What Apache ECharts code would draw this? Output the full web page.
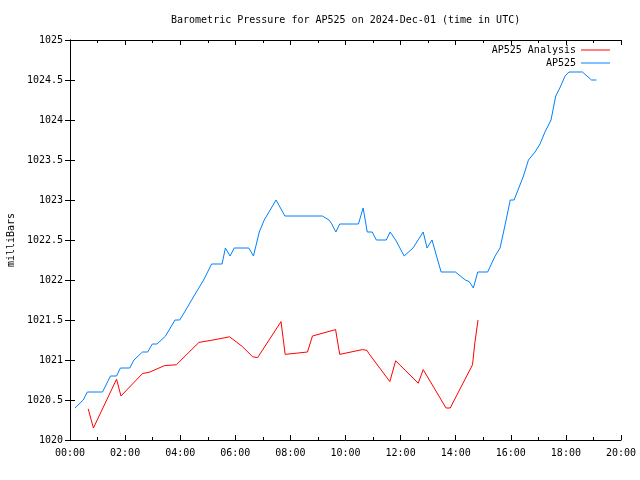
<!DOCTYPE html>
<html>
<head>
<meta charset="utf-8">
<script src="https://cdn.jsdelivr.net/npm/echarts@6/dist/echarts.min.js"></script>
<style>html,body{margin:0;padding:0;background:#fff}#c{width:640px;height:480px}</style>
</head>
<body>
<div id="c"></div>
<script>
// time in hours UTC, pressure in millibars
const analysisTimes = [0.66,0.85,1.69,1.85,2.63,2.90,3.43,3.86,4.68,5.19,5.79,6.25,6.63,6.81,7.66,7.81,8.62,8.80,9.64,9.79,10.61,10.78,10.85,11.61,11.82,12.64,12.82,13.65,13.80,14.61,14.69,14.81];
const analysisValues = [1020.39,1020.15,1020.76,1020.55,1020.83,1020.85,1020.93,1020.94,1021.22,1021.25,1021.29,1021.17,1021.04,1021.03,1021.48,1021.07,1021.10,1021.30,1021.38,1021.07,1021.13,1021.12,1021.08,1020.73,1020.99,1020.71,1020.88,1020.40,1020.40,1020.94,1021.2,1021.5];

const obsTimes = [0.18,0.48,0.63,1.18,1.47,1.69,1.83,2.17,2.32,2.63,2.82,2.99,3.16,3.47,3.81,3.98,4.16,4.50,4.85,5.14,5.52,5.64,5.81,5.96,6.49,6.66,6.87,7.05,7.48,7.80,9.16,9.40,9.50,9.65,9.79,10.47,10.64,10.79,10.97,11.12,11.48,11.62,11.82,12.13,12.45,12.82,12.96,13.14,13.47,13.99,14.35,14.49,14.64,14.80,15.16,15.43,15.61,15.80,15.98,16.12,16.46,16.64,16.88,17.06,17.24,17.46,17.63,17.78,17.97,18.11,18.60,18.93,19.11];
const obsValues = [1020.4,1020.5,1020.6,1020.6,1020.8,1020.8,1020.9,1020.9,1021.0,1021.1,1021.1,1021.2,1021.2,1021.3,1021.5,1021.5,1021.6,1021.8,1022.0,1022.2,1022.2,1022.4,1022.3,1022.4,1022.4,1022.3,1022.6,1022.75,1023.0,1022.8,1022.8,1022.75,1022.7,1022.6,1022.7,1022.7,1022.9,1022.6,1022.6,1022.5,1022.5,1022.6,1022.5,1022.3,1022.4,1022.6,1022.4,1022.5,1022.1,1022.1,1022.0,1021.98,1021.9,1022.1,1022.1,1022.3,1022.4,1022.7,1023.0,1023.0,1023.3,1023.5,1023.6,1023.7,1023.85,1024.0,1024.3,1024.4,1024.55,1024.6,1024.6,1024.5,1024.5];

const titleText = 'Barometric Pressure for AP525 on 2024-Dec-01 (time in UTC)';
const yName = 'milliBars';
const seriesNames = ['AP525 Analysis', 'AP525'];
const colors = ['#ff0000', '#0080ff'];

const FONT = 'DejaVu Sans Mono';
const pair = (t, v) => t.map((x, i) => [x, v[i]]);
const fmtTime = v => (v < 10 ? '0' : '') + v + ':00';
const fmtP = v => String(Math.round(v * 10) / 10);

const chart = echarts.init(document.getElementById('c'), null, {renderer: 'canvas'});
const axisLine = {show: true, lineStyle: {color: '#000', width: 1}};
const legendBase = {
  orient: 'vertical', align: 'right', right: 30, padding: 0, itemWidth: 29, itemHeight: 1,
  icon: 'rect', textStyle: {fontFamily: FONT, fontSize: 10, color: '#000'}, selectedMode: false
};
chart.setOption({
  animation: false,
  backgroundColor: '#fff',
  title: {text: titleText, left: 166, top: 10,
    textStyle: {fontFamily: FONT, fontSize: 10, fontWeight: 'normal', color: '#000'}},
  legend: [
    Object.assign({}, legendBase, {data: [seriesNames[0]], top: 45}),
    Object.assign({}, legendBase, {data: [seriesNames[1]], top: 58})
  ],
  grid: {left: 70, right: 19, top: 40, bottom: 40, containLabel: false, outerBoundsMode: 'none'},
  xAxis: [
    {type: 'value', min: 0, max: 20, interval: 2, position: 'bottom',
     axisLine: axisLine, splitLine: {show: false},
     axisTick: {show: true, inside: true, length: 5, lineStyle: {color: '#000'}},
     minorTick: {show: true, splitNumber: 2, length: 3, lineStyle: {color: '#000'}},
     axisLabel: {formatter: fmtTime, fontFamily: FONT, fontSize: 10, color: '#000', margin: 8}},
    {type: 'value', min: 0, max: 20, interval: 2, position: 'top',
     axisLine: axisLine, splitLine: {show: false},
     axisTick: {show: true, inside: true, length: 5, lineStyle: {color: '#000'}},
     minorTick: {show: true, splitNumber: 2, length: 3, lineStyle: {color: '#000'}},
     axisLabel: {show: false}}
  ],
  yAxis: [
    {type: 'value', min: 1020, max: 1025, interval: 0.5, position: 'left',
     name: yName, nameLocation: 'middle', nameGap: 52, nameRotate: 90,
     nameTextStyle: {fontFamily: FONT, fontSize: 10, color: '#000'},
     axisLine: axisLine, splitLine: {show: false},
     axisTick: {show: true, inside: true, length: 5, lineStyle: {color: '#000'}},
     axisLabel: {formatter: fmtP, fontFamily: FONT, fontSize: 10, color: '#000', margin: 7}},
    {type: 'value', min: 1020, max: 1025, interval: 0.5, position: 'right',
     axisLine: axisLine, splitLine: {show: false},
     axisTick: {show: true, inside: true, length: 5, lineStyle: {color: '#000'}},
     axisLabel: {show: false}}
  ],
  series: [
    {name: seriesNames[0], type: 'line', data: pair(analysisTimes, analysisValues),
     showSymbol: false, symbol: 'none', color: colors[0], lineStyle: {width: 1, color: colors[0]}},
    {name: seriesNames[1], type: 'line', data: pair(obsTimes, obsValues),
     showSymbol: false, symbol: 'none', color: colors[1], lineStyle: {width: 1, color: colors[1]}}
  ]
});
</script>
</body>
</html>
